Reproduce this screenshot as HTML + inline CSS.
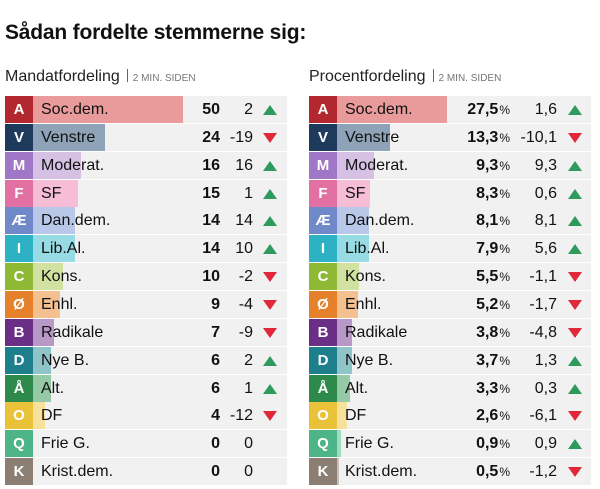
<!DOCTYPE html>
<html><head><meta charset="utf-8"><style>
body{margin:0;width:600px;height:489px;background:#fff;font-family:"Liberation Sans",sans-serif;color:#111;position:relative;overflow:hidden}
.t{position:absolute;left:5px;top:21px;font-size:21px;font-weight:bold;letter-spacing:-0.2px}
.h{position:absolute;top:68px;font-size:16px;color:#222}
.h span{font-size:10px;color:#777;margin-left:5px}
.h i{display:inline-block;width:1px;height:13px;background:#666;margin-left:7px;vertical-align:-1px}
.r{position:absolute;height:27px;background:#f1f1f1;width:282px}
.l{position:absolute;left:0;top:0;width:28px;height:27px;color:#fff;font-weight:bold;font-size:15px;text-align:center;line-height:28px}
.b{position:absolute;left:28px;top:0;height:27px}
.n{position:absolute;left:36px;top:0;line-height:28px;font-size:16px}
.v{position:absolute;top:0;line-height:28px;font-size:16px;font-weight:bold;text-align:right}
.c{position:absolute;top:0;line-height:28px;font-size:16px;text-align:right}
.p{font-size:12px;font-weight:normal;margin-left:1px}
.up,.dn{position:absolute;top:9px;width:0;height:0;border-left:7px solid transparent;border-right:7px solid transparent}
.up{border-bottom:10px solid #2e9a5e}
.dn{border-top:10px solid #e0283a}
</style></head><body>
<div class="t">Sådan fordelte stemmerne sig:</div>
<div class="h" style="left:5px">Mandatfordeling<i></i><span>2 MIN. SIDEN</span></div>
<div class="h" style="left:309px">Procentfordeling<i></i><span>2 MIN. SIDEN</span></div>
<div id="x"></div>
<script>
var d=[
["A","Soc.dem.","#b2282e","#e99a9b",50,"2",27.5,"1,6",1],
["V","Venstre","#1e3a5c","#8ea3b8",24,"-19",13.3,"-10,1",-1],
["M","Moderat.","#a076c6","#d6c1e4",16,"16",9.3,"9,3",1],
["F","SF","#e370a3","#f7bdd7",15,"1",8.3,"0,6",1],
["Æ","Dan.dem.","#6f89c9","#b9c7e9",14,"14",8.1,"8,1",1],
["I","Lib.Al.","#2cb2c4","#97dbe5",14,"10",7.9,"5,6",1],
["C","Kons.","#8fb935","#d0e1a0",10,"-2",5.5,"-1,1",-1],
["Ø","Enhl.","#e5802b","#f5c090",9,"-4",5.2,"-1,7",-1],
["B","Radikale","#6b2e86","#b898c7",7,"-9",3.8,"-4,8",-1],
["D","Nye B.","#1d7f8c","#8fc4c9",6,"2",3.7,"1,3",1],
["Å","Alt.","#2d8a4c","#96c9a5",6,"1",3.3,"0,3",1],
["O","DF","#e9c23a","#f6e09c",4,"-12",2.6,"-6,1",-1],
["Q","Frie G.","#4cb486","#a5dac2",0,"0",0.9,"0,9",1],
["K","Krist.dem.","#8b7f73","#c5bfb9",0,"0",0.5,"-1,2",-1]];
var h="";
d.forEach(function(r,i){
 var top=96+i*27.85;
 h+='<div class="r" style="left:5px;top:'+top+'px"><div class="b" style="width:'+(r[4]*3)+'px;background:'+r[3]+'"></div><div class="l" style="background:'+r[2]+'">'+r[0]+'</div><div class="n">'+r[1]+'</div><div class="v" style="right:67px">'+r[4]+'</div><div class="c" style="right:34px">'+r[5]+'</div>'+(r[4]||r[5]!="0"?'<div class="'+(r[8]>0?'up':'dn')+'" style="left:258px"></div>':'')+'</div>';
 h+='<div class="r" style="left:309px;top:'+top+'px"><div class="b" style="width:'+(r[6]*4)+'px;background:'+r[3]+'"></div><div class="l" style="background:'+r[2]+'">'+r[0]+'</div><div class="n">'+r[1]+'</div><div class="v" style="right:81px">'+r[6].toFixed(1).replace(".",",")+'<span class="p">%</span></div><div class="c" style="right:34px">'+r[7]+'</div><div class="'+(r[8]>0?'up':'dn')+'" style="left:259px"></div></div>';
});
document.getElementById("x").innerHTML=h;
</script>
</body></html>
